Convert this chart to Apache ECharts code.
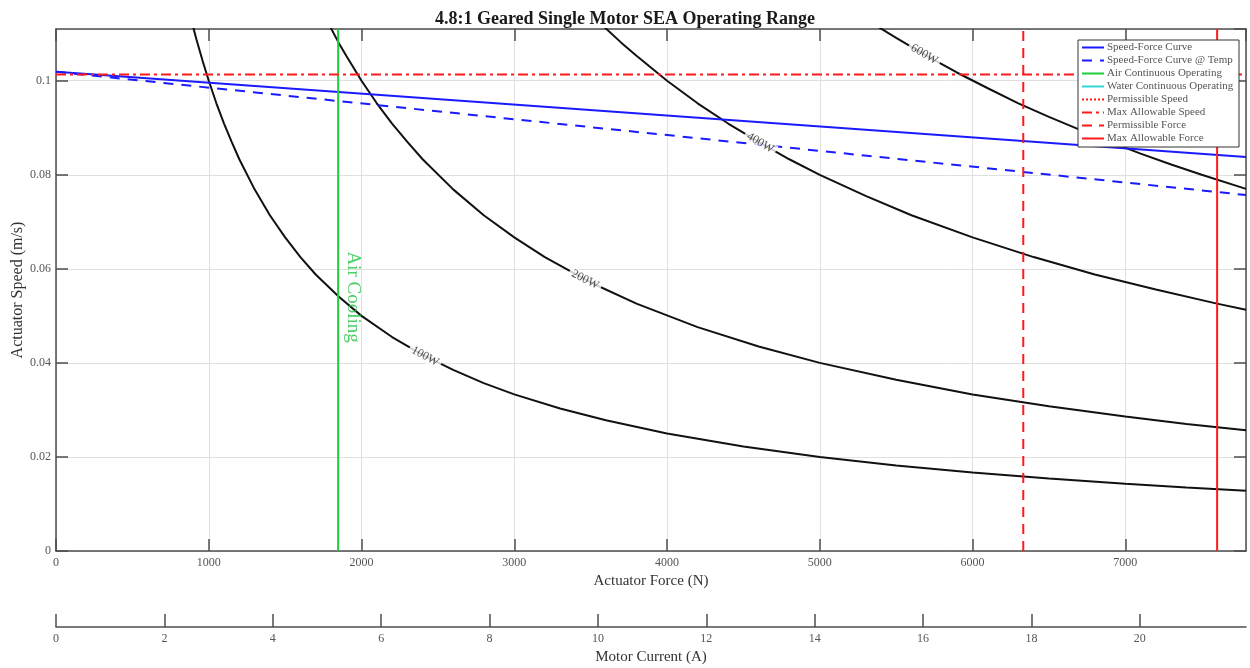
<!DOCTYPE html>
<html>
<head>
<meta charset="utf-8">
<script src="https://cdn.jsdelivr.net/npm/echarts@6/dist/echarts.min.js"></script>
<style>html,body{margin:0;padding:0;background:#fff}#c{width:1250px;height:668px}</style>
</head>
<body>
<div id="c"></div>
<script>
// ---- data ----
const forceMax = 7790;        // N, right edge of plot
const speedMax = 0.111;       // m/s, top edge of plot
const currentMax = 21.96;     // A, right edge of current axis

const speedForceCurve = [[0, 0.1019], [7790, 0.0838]];
const speedForceCurveTemp = [[0, 0.1019], [7790, 0.0757]];

const power100W = [[880, 0.1136], [920, 0.1087], [960, 0.1042], [1000, 0.100], [1050, 0.0952], [1100, 0.0909], [1150, 0.0870], [1200, 0.0833], [1300, 0.0769], [1400, 0.0714], [1500, 0.0667], [1600, 0.0625], [1700, 0.0588], [1850, 0.0541], [2000, 0.050], [2200, 0.0455], [2400, 0.0417], [2600, 0.0385], [2800, 0.0357], [3000, 0.0333], [3300, 0.0303], [3600, 0.0278], [4000, 0.025], [4500, 0.0222], [5000, 0.020], [5500, 0.0182], [6000, 0.0167], [6500, 0.0154], [7000, 0.0143], [7400, 0.0135], [7790, 0.0128]];
const power200W = [[1780, 0.1124], [1850, 0.1081], [1900, 0.1053], [2000, 0.100], [2100, 0.0952], [2200, 0.0909], [2300, 0.0870], [2400, 0.0833], [2600, 0.0769], [2800, 0.0714], [3000, 0.0667], [3200, 0.0625], [3500, 0.0571], [3800, 0.0526], [4200, 0.0476], [4600, 0.0435], [5000, 0.040], [5500, 0.0364], [6000, 0.0333], [6500, 0.0308], [7000, 0.0286], [7400, 0.0270], [7790, 0.0257]];
const power400W = [[3580, 0.1117], [3700, 0.1081], [3800, 0.1053], [4000, 0.100], [4200, 0.0952], [4400, 0.0909], [4600, 0.0870], [4800, 0.0833], [5000, 0.080], [5300, 0.0755], [5600, 0.0714], [6000, 0.0667], [6400, 0.0625], [6800, 0.0588], [7200, 0.0556], [7600, 0.0526], [7790, 0.0513]];
const power600W = [[5380, 0.1115], [5500, 0.1091], [5700, 0.1053], [5900, 0.1017], [6100, 0.0984], [6300, 0.0952], [6500, 0.0923], [6700, 0.0896], [6900, 0.0870], [7100, 0.0845], [7300, 0.0822], [7500, 0.080], [7790, 0.0770]];

const contourLabels = [[2416, 0.0414, '100W', -28], [3464, 0.0577, '200W', -27], [4610, 0.0868, '400W', -30], [5684, 0.1056, '600W', -30]];

const airContinuousForce = 1847;
const maxAllowableSpeed = 0.1013;
const permissibleForce = 6332;
const maxAllowableForce = 7601;
const airCoolingLabel = [1945, 0.054, 'Air Cooling'];

const xTickInterval = 1000;
const yTickInterval = 0.02;
const currentTickInterval = 2;

const legendNames = ['Speed-Force Curve', 'Speed-Force Curve @ Temp', 'Air Continuous Operating', 'Water Continuous Operating', 'Permissible Speed', 'Max Allowable Speed', 'Permissible Force', 'Max Allowable Force'];

// ---- chart ----
const FONT = '"Liberation Serif", "Times New Roman", serif';
const AX = '#4d4d4d';
const LBL = '#555';
const chart = echarts.init(document.getElementById('c'), null, {renderer: 'canvas'});

function lineSeries(name, data, color, type, width, z) {
  return {name, type: 'line', data, showSymbol: false, symbol: 'none', xAxisIndex: 0, yAxisIndex: 0,
    lineStyle: {color, type: type || 'solid', width: width || 2}, itemStyle: {color},
    animation: false, z: z || 3, silent: true};
}

const series = [
  lineSeries('Speed-Force Curve', speedForceCurve, '#1a1aff', 'solid', 2, 4),
  lineSeries('Speed-Force Curve @ Temp', speedForceCurveTemp, '#1a1aff', [10, 8], 2, 4),
  lineSeries('Air Continuous Operating', [[airContinuousForce, 0], [airContinuousForce, speedMax]], '#1fcc3c', 'solid', 2, 4),
  lineSeries('Water Continuous Operating', [], '#33d6d6', 'solid', 2, 4),
  lineSeries('Permissible Speed', [], '#ff1a1a', [2, 2], 2, 4),
  lineSeries('Max Allowable Speed', [[0, maxAllowableSpeed], [forceMax, maxAllowableSpeed]], '#ff1a1a', [10, 4, 3, 4], 2, 4),
  lineSeries('Permissible Force', [[permissibleForce, 0], [permissibleForce, speedMax]], '#ff1a1a', [10, 7], 2, 4),
  lineSeries('Max Allowable Force', [[maxAllowableForce, 0], [maxAllowableForce, speedMax]], '#ff1a1a', 'solid', 2, 4),
  lineSeries('p100', power100W, '#111', 'solid', 2, 3),
  lineSeries('p200', power200W, '#111', 'solid', 2, 3),
  lineSeries('p400', power400W, '#111', 'solid', 2, 3),
  lineSeries('p600', power600W, '#111', 'solid', 2, 3),
  {
    name: 'contourLabels', type: 'scatter', xAxisIndex: 0, yAxisIndex: 0, z: 6, animation: false, silent: true,
    symbolSize: 1, itemStyle: {color: 'rgba(0,0,0,0)'},
    data: contourLabels.map(d => ({value: [d[0], d[1]], label: {rotate: d[3], formatter: d[2]}})),
    label: {show: true, position: 'inside', color: '#222', fontFamily: FONT, fontSize: 12,
      backgroundColor: '#fff', padding: [0, 3, 0, 3]}
  },
  {
    name: 'airCooling', type: 'scatter', xAxisIndex: 0, yAxisIndex: 0, z: 6, animation: false, silent: true,
    symbolSize: 1, itemStyle: {color: 'rgba(0,0,0,0)'},
    data: [{value: [airCoolingLabel[0], airCoolingLabel[1]], label: {formatter: airCoolingLabel[2]}}],
    label: {show: true, position: 'inside', rotate: -90, color: '#22c443', fontFamily: FONT, fontSize: 19}
  }
];

const option = {
  animation: false,
  backgroundColor: '#fff',
  title: {text: '4.8:1 Geared Single Motor SEA Operating Range', left: 'center', top: 5,
    textStyle: {fontFamily: FONT, fontSize: 18, fontWeight: 'bold', color: '#1a1a1a'}},
  legend: {
    data: legendNames, orient: 'vertical', left: 1078, top: 40, z: 20,
    backgroundColor: '#fff', borderColor: '#333', borderWidth: 1, borderRadius: 0,
    padding: [2, 3, 3, 3], itemGap: 2, itemWidth: 22, itemHeight: 10,
    itemStyle: {opacity: 0},
    textStyle: {fontFamily: FONT, fontSize: 11, lineHeight: 11, color: '#555', padding: [0, 0, 0, -2],
      width: 129, overflow: 'truncate', ellipsis: ''},
    selectedMode: false
  },
  grid: [
    {left: 56, right: 4, top: 29, bottom: 117, outerBoundsMode: 'none', containLabel: false},
    {left: 56, right: 4, top: 626, height: 1, outerBoundsMode: 'none', containLabel: false}
  ],
  xAxis: [
    {type: 'value', gridIndex: 0, min: 0, max: forceMax, interval: xTickInterval, position: 'bottom',
      name: 'Actuator Force (N)', nameLocation: 'middle', nameGap: 21,
      nameTextStyle: {fontFamily: FONT, fontSize: 15, color: '#333'},
      axisLine: {show: true, onZero: false, lineStyle: {color: AX, width: 1.5}},
      axisTick: {show: true, inside: true, length: 12, lineStyle: {color: AX, width: 1.5}},
      axisLabel: {fontFamily: FONT, fontSize: 12, color: LBL, margin: 6, showMaxLabel: false,
        formatter: v => String(v)},
      splitLine: {show: true, lineStyle: {color: '#e0e0e0', width: 1}}},
    {type: 'value', gridIndex: 0, min: 0, max: forceMax, interval: xTickInterval, position: 'top',
      axisLine: {show: true, onZero: false, lineStyle: {color: AX, width: 1.5}},
      axisTick: {show: true, inside: true, length: 12, lineStyle: {color: AX, width: 1.5}},
      axisLabel: {show: false}, splitLine: {show: false}},
    {type: 'value', gridIndex: 1, min: 0, max: currentMax, interval: currentTickInterval, position: 'bottom',
      name: 'Motor Current (A)', nameLocation: 'middle', nameGap: 23,
      nameTextStyle: {fontFamily: FONT, fontSize: 15, color: '#333'},
      axisLine: {show: true, onZero: false, lineStyle: {color: AX, width: 1.5}},
      axisTick: {show: true, inside: true, length: 13, lineStyle: {color: AX, width: 1.5}},
      axisLabel: {fontFamily: FONT, fontSize: 12, color: LBL, margin: 6, showMaxLabel: false,
        formatter: v => String(v)},
      splitLine: {show: false}}
  ],
  yAxis: [
    {type: 'value', gridIndex: 0, min: 0, max: speedMax, interval: yTickInterval, position: 'left',
      name: 'Actuator Speed (m/s)', nameLocation: 'middle', nameGap: 30, nameMoveOverlap: false,
      nameTextStyle: {fontFamily: FONT, fontSize: 16, color: '#333'},
      axisLine: {show: true, onZero: false, lineStyle: {color: AX, width: 1.5}},
      axisTick: {show: true, inside: true, length: 12, lineStyle: {color: AX, width: 1.5}},
      axisLabel: {fontFamily: FONT, fontSize: 12, color: LBL, margin: 5, showMaxLabel: false,
        formatter: v => String(Math.round(v * 100) / 100)},
      splitLine: {show: true, lineStyle: {color: '#e0e0e0', width: 1}}},
    {type: 'value', gridIndex: 0, min: 0, max: speedMax, interval: yTickInterval, position: 'right',
      axisLine: {show: true, onZero: false, lineStyle: {color: AX, width: 1.5}},
      axisTick: {show: true, inside: true, length: 12, lineStyle: {color: AX, width: 1.5}},
      axisLabel: {show: false}, splitLine: {show: false}},
    {type: 'value', gridIndex: 1, show: false, min: 0, max: 1}
  ],
  series
};
chart.setOption(option);
</script>
</body>
</html>
